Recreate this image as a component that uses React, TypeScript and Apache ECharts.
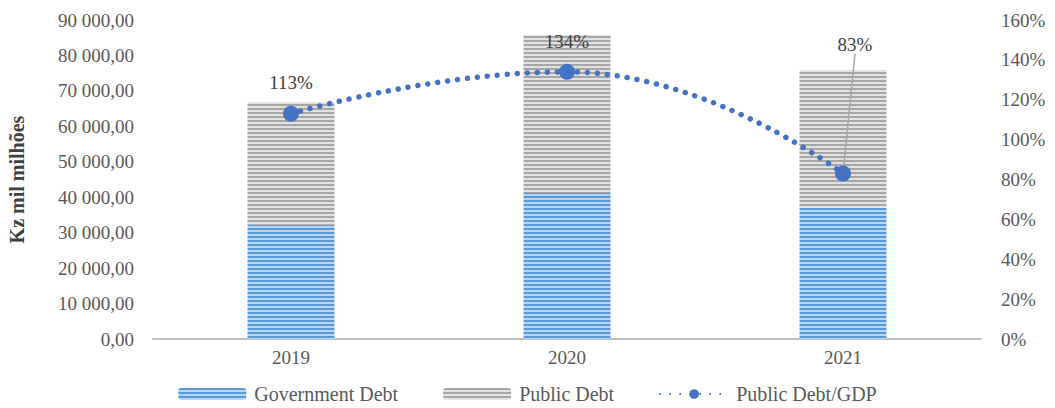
import React, { useEffect, useRef } from "react";
import * as echarts from "echarts";

const years = ["2019", "2020", "2021"];
const governmentDebt = [32200, 41200, 37000];
const publicDebtRest = [34700, 44600, 38900];
const debtToGdp = [113, 134, 83];

const FONT = "Liberation Serif";

function stripe(dark: string, light: string) {
  const c = document.createElement("canvas");
  c.width = 8;
  c.height = 4;
  const ctx = c.getContext("2d")!;
  ctx.fillStyle = light;
  ctx.fillRect(0, 0, 8, 4);
  ctx.fillStyle = dark;
  ctx.fillRect(0, 0, 8, 2);
  return { image: c, repeat: "repeat" } as any;
}

function fmtThousands(v: number) {
  const s = Math.round(v).toString().replace(/\B(?=(\d{3})+(?!\d))/g, " ");
  return s + ",00";
}

export default function App() {
  const ref = useRef<HTMLDivElement>(null);
  useEffect(() => {
    if (!ref.current) return;
    const chart = echarts.init(ref.current, undefined, { renderer: "svg" });
    const blue = stripe("#5b9bd5", "#b9d5f0");
    const gray = stripe("#a6a6a6", "#e2e2e2");
    chart.setOption({
      animation: false,
      grid: { left: 153, right: 74, top: 20, bottom: 69, outerBoundsMode: "none" },
      legend: {
        top: 383,
        left: "center",
        padding: 0,
        itemWidth: 68,
        itemHeight: 12,
        itemGap: 45,
        textStyle: { fontFamily: FONT, fontSize: 20, lineHeight: 22, color: "#595959", padding: [0, 0, 0, 3] },
        data: ["Government Debt", "Public Debt", "Public Debt/GDP"],
      },
      xAxis: {
        type: "category",
        data: years,
        axisLine: { lineStyle: { color: "#bfbfbf", width: 2 } },
        axisTick: { show: false },
        axisLabel: { fontFamily: FONT, fontSize: 19, color: "#595959", margin: 9 },
      },
      yAxis: [
        {
          type: "value",
          min: 0,
          max: 90000,
          interval: 10000,
          name: "Kz mil milhões",
          nameLocation: "middle",
          nameGap: 126,
          nameTextStyle: { fontFamily: FONT, fontSize: 20, fontWeight: "bold", color: "#404040" },
          splitLine: { show: false },
          axisLine: { show: false },
          axisTick: { show: false },
          axisLabel: {
            fontFamily: FONT,
            fontSize: 19,
            color: "#595959",
            margin: 19,
            formatter: (v: number) => fmtThousands(v),
          },
        },
        {
          type: "value",
          min: 0,
          max: 160,
          interval: 20,
          splitLine: { show: false },
          axisLine: { show: false },
          axisTick: { show: false },
          axisLabel: {
            fontFamily: FONT,
            fontSize: 19,
            color: "#595959",
            margin: 20,
            formatter: (v: number) => v + "%",
          },
        },
      ],
      series: [
        {
          name: "Government Debt",
          type: "bar",
          stack: "debt",
          barWidth: 87,
          data: governmentDebt,
          itemStyle: { color: blue },
        },
        {
          name: "Public Debt",
          type: "bar",
          stack: "debt",
          barWidth: 87,
          data: publicDebtRest,
          itemStyle: { color: gray },
        },
        {
          name: "Public Debt/GDP",
          type: "line",
          yAxisIndex: 1,
          smooth: 0.5,
          data: debtToGdp.map((v, i) =>
            i === 2
              ? { value: v, labelLine: { show: true, lineStyle: { color: "#a6a6a6", width: 1.5 } } }
              : { value: v }
          ),
          symbol: "circle",
          symbolSize: 16,
          itemStyle: { color: "#4472c4" },
          lineStyle: { color: "#4472c4", width: 5.5, type: [0.01, 10], cap: "round" },
          label: {
            show: true,
            position: "top",
            distance: 14,
            fontFamily: FONT,
            fontSize: 19,
            color: "#404040",
            formatter: (p: any) => p.value + "%",
          },
          labelLine: { show: false },
          labelLayout: (p: any) =>
            p.dataIndex === 2 ? { dy: -98, dx: 12 } : { dy: p.dataIndex === 1 ? 1 : 0 },
        },
      ],
    });
    return () => chart.dispose();
  }, []);
  return (
    <div
      ref={ref}
      style={{ position: "fixed", left: 0, top: 0, width: 1055, height: 408, background: "#fff" }}
    />
  );
}
